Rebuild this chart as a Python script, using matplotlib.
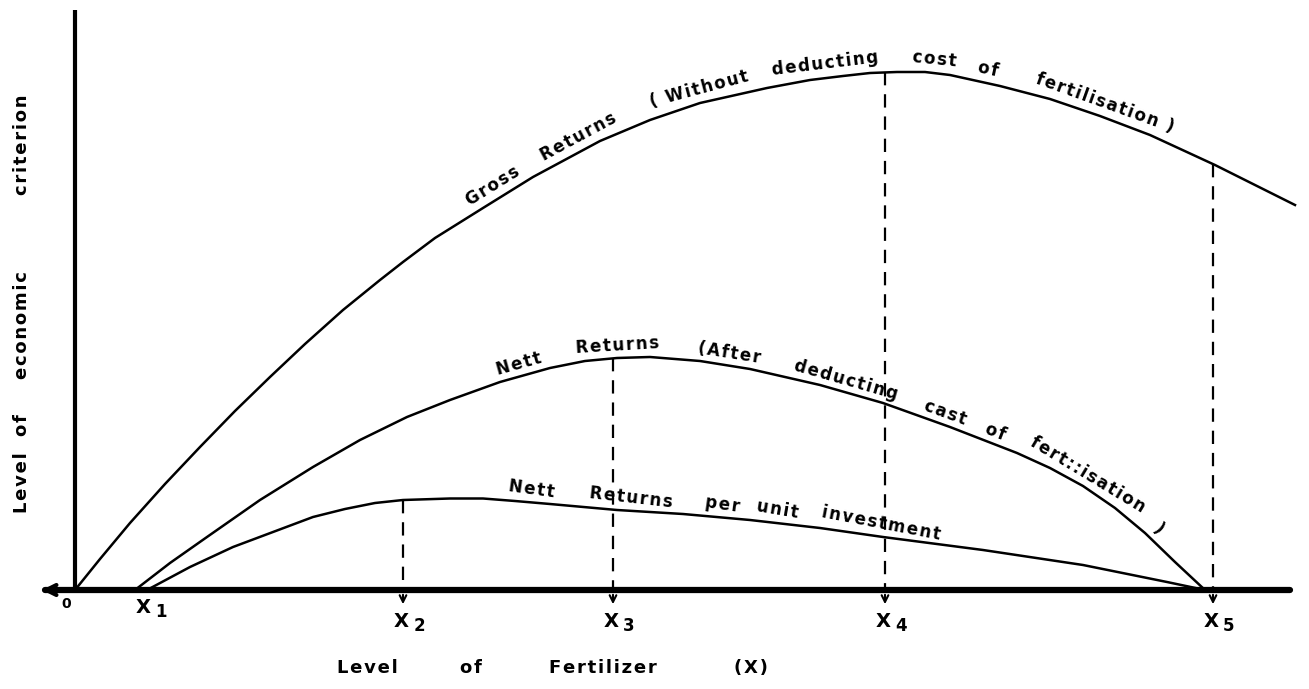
import matplotlib
matplotlib.use("Agg")
import matplotlib.pyplot as plt
import numpy as np

# curves (x = fertilizer level, y = economic criterion)
gross_x = [0, 25, 55, 90, 125, 160, 195, 230, 268, 305, 328, 360, 408, 458, 525, 575,
           625, 692, 735, 768, 795, 822, 850, 875, 925, 975, 1025, 1075, 1140, 1180, 1220]
gross_y = [0, 31, 67, 106, 143, 179, 213, 246, 280, 310, 328, 352, 382, 413, 449, 470,
           487, 502, 510, 514, 517, 518, 518, 515, 504, 491, 474, 455, 425, 405, 385]

nett_x = [60, 95, 132, 185, 238, 285, 332, 375, 425, 475, 510, 542, 575, 625, 675, 745,
          808, 875, 942, 975, 1008, 1040, 1070, 1100, 1130]
nett_y = [0, 27, 53, 90, 123, 150, 173, 190, 208, 222, 229, 232, 233, 229, 221, 205,
          187, 163, 137, 122, 104, 82, 57, 28, 0]

unit_x = [72, 115, 158, 198, 238, 270, 300, 328, 375, 408, 440, 475, 542, 608, 675, 745,
          808, 908, 1008, 1092, 1130]
unit_y = [0, 23, 43, 58, 73, 81, 87, 90, 91.5, 91.5, 89, 86, 80, 76, 70, 62,
          53, 40, 25, 8, 0]

level_names = ["X", "X", "X", "X", "X"]
level_subs = ["1", "2", "3", "4", "5"]
level_x = [70, 328, 538, 810, 1138]

gross_words = ["Gross", "Returns", "( Without", "deducting", "cost", "of", "fertilisation )"]
gross_word_x = [425, 510, 628, 752, 858, 910, 1025]
nett_words = ["Nett", "Returns", "(After", "deducting", "cast", "of", "fert::isation", ")"]
nett_word_x = [447, 543, 652, 768, 866, 916, 1006, 1075]
unit_words = ["Nett", "Returns", "per", "unit", "investment"]
unit_word_x = [455, 555, 646, 700, 804]

xlabel_words = ["Level", "of", "Fertilizer", "(X)"]
xlabel_word_x = [292, 396, 528, 676]
ylabel_words = ["Level", "of", "economic", "criterion"]
ylabel_word_y = [107, 165, 265, 445]

FONT = "DejaVu Sans"
HAIR = "\u200a"

fig = plt.figure(figsize=(13.09, 6.89), dpi=100)
ax = fig.add_axes([0, 0, 1, 1])
ax.set_xlim(-75, 1234)
ax.set_ylim(-99, 590)
ax.axis("off")


def spaced(word):
    return HAIR.join(word)


def place_words(words, xs, cx, cy, gap=4, size=11, extra=0):
    cx = np.asarray(cx, float)
    cy = np.asarray(cy, float)
    for w, x in zip(words, xs):
        y = np.interp(x, cx, cy)
        dy = np.interp(x + 12, cx, cy) - np.interp(x - 12, cx, cy)
        ang = np.degrees(np.arctan2(dy, 24)) + extra
        nx, ny = -np.sin(np.radians(ang)), np.cos(np.radians(ang))
        ax.text(x + nx * gap, y + ny * gap, spaced(w), rotation=ang, rotation_mode="anchor",
                ha="center", va="bottom", fontsize=size, fontweight="bold",
                family=FONT, color="black")


# axes
ax.plot([0, 0], [0, 580], color="black", lw=3, solid_capstyle="butt")
ax.plot([-30, 1215], [0, 0], color="black", lw=4.5, solid_capstyle="round")
ax.annotate("", xy=(-36, 0), xytext=(-10, 0),
            arrowprops=dict(arrowstyle="->", lw=3, color="black", mutation_scale=18))

# curves
ax.plot(gross_x, gross_y, color="black", lw=1.8)
ax.plot(nett_x, nett_y, color="black", lw=1.8)
ax.plot(unit_x, unit_y, color="black", lw=1.8)

# drop lines to X2..X5
tops = [np.interp(level_x[1], unit_x, unit_y),
        np.interp(level_x[2], nett_x, nett_y),
        np.interp(level_x[3], gross_x, gross_y),
        np.interp(level_x[4], gross_x, gross_y)]
for x, top in zip(level_x[1:], tops):
    ax.plot([x, x], [top, 0], color="black", lw=1.6, dashes=(6, 4))
    ax.annotate("", xy=(x, -17), xytext=(x, -2),
                arrowprops=dict(arrowstyle="->", lw=1.5, color="black", mutation_scale=12))

# tick labels
ax.text(-9, -7, "0", ha="center", va="top", fontsize=10, fontweight="bold", family=FONT)
for i, (n, s, x) in enumerate(zip(level_names, level_subs, level_x)):
    y0 = -8 if i == 0 else -22
    ax.text(x - 2, y0, n, ha="center", va="top", fontsize=14, fontweight="bold", family=FONT)
    ax.text(x + 16, y0 - 5, s, ha="center", va="top", fontsize=12, fontweight="bold", family=FONT)

# curve labels
place_words(gross_words, gross_word_x, gross_x, gross_y, gap=5, size=12)
place_words(nett_words, nett_word_x, nett_x, nett_y, gap=3, size=12)
place_words(unit_words, unit_word_x, unit_x, unit_y, gap=4, size=12, extra=-3)

# axis titles
for w, x in zip(xlabel_words, xlabel_word_x):
    ax.text(x, -78, spaced(w), ha="center", va="center", fontsize=13, fontweight="bold", family=FONT)
for w, y in zip(ylabel_words, ylabel_word_y):
    ax.text(-53, y, spaced(w), rotation=90, ha="center", va="center", fontsize=13,
            fontweight="bold", family=FONT)

fig.savefig("out.png", dpi=100)
